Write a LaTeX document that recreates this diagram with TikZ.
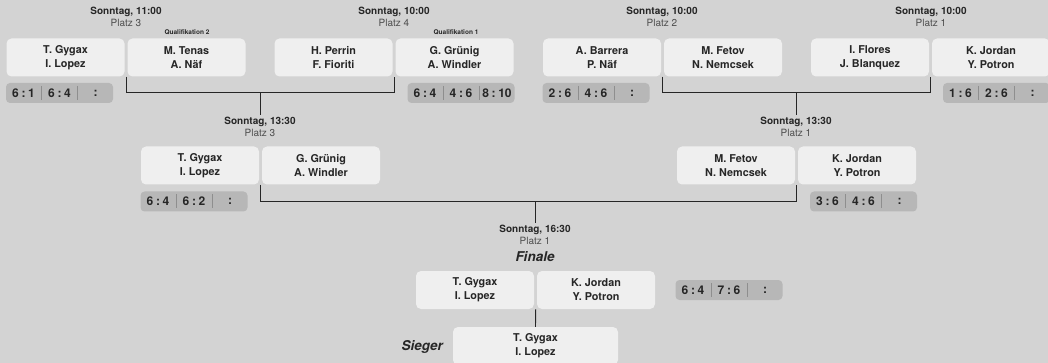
\documentclass[tikz,border=0pt]{standalone}
\usepackage{fontspec}
\setmainfont{TeX Gyre Heros}
\usepackage{tikz}

\definecolor{hintergrund}{HTML}{D3D3D3}
\definecolor{kasten}{HTML}{EFEFEF}
\definecolor{satzgrau}{HTML}{B7B7B7}
\definecolor{trenngrau}{HTML}{8E8E8E}
\definecolor{schrift}{HTML}{262626}
\definecolor{platzgrau}{HTML}{4D4D4D}

\tikzstyle{team} = [rectangle, rounded corners=5pt, fill=kasten, minimum width=118pt, minimum height=38pt, inner sep=0pt, align=center, text=schrift, font=\fontsize{10.8}{14}\selectfont\bfseries]
\tikzstyle{siegbox} = [team, minimum width=165pt]
\tikzstyle{zeit} = [align=center, text=schrift, font=\fontsize{10}{12}\selectfont, inner sep=2pt]
\tikzstyle{quali} = [text=schrift, font=\fontsize{6.5}{7}\selectfont\bfseries, inner sep=0pt]
\tikzstyle{titel} = [text=schrift, font=\fontsize{13.5}{15}\selectfont\bfseries\itshape, inner sep=0pt]
\tikzstyle{satzbox} = [rectangle, rounded corners=4pt, fill=satzgrau, minimum width=107pt, minimum height=20pt, inner sep=0pt]
\tikzstyle{satz} = [text=schrift, font=\fontsize{12}{14}\selectfont\bfseries, inner sep=0pt]
\tikzstyle{trenn} = [draw=trenngrau, line width=0.9pt]
\tikzstyle{linie} = [draw=schrift, line width=0.9pt]

% Satzergebnis: Name, Position, drei Saetze
\newcommand{\sz}[2]{#1\hspace{0.22em}:\hspace{0.22em}#2}
\newcommand{\ergebnis}[5]{%
  \node (#1) [satzbox] at (#2) {};
  \node (#1a) [satz, xshift=-36pt] at (#1) {#3};
  \node (#1b) [satz] at (#1) {#4};
  \node (#1c) [satz, xshift=36pt] at (#1) {#5};
  \draw [trenn] ([xshift=-18pt, yshift=7pt]#1.center) -- ([xshift=-18pt, yshift=-7pt]#1.center);
  \draw [trenn] ([xshift=18pt, yshift=7pt]#1.center) -- ([xshift=18pt, yshift=-7pt]#1.center);
}

\begin{document}
\begin{tikzpicture}[x=1pt, y=-1pt, node distance=121pt]

        \useasboundingbox (0,0) rectangle (1048,363);
        \clip (0,0) rectangle (1048,363);
        \fill [hintergrund] (0,0) rectangle (1048,363);

        % Erste Runde
        \node (z1) [zeit] at (126,17) {\textbf{Sonntag, 11:00}\\\textcolor{platzgrau}{Platz 3}};
        \node (q2) [quali] at (187,32) {Qualifikation 2};
        \node (p1l) [team] at (65.5,57.5) {T. Gygax\\I. Lopez};
        \node (p1r) [team, right of=p1l] {M. Tenas\\A. Näf};

        \node (z2) [zeit] at (394,17) {\textbf{Sonntag, 10:00}\\\textcolor{platzgrau}{Platz 4}};
        \node (q1) [quali] at (456,32) {Qualifikation 1};
        \node (p2l) [team] at (333.5,57.5) {H. Perrin\\F. Fioriti};
        \node (p2r) [team, right of=p2l] {G. Grünig\\A. Windler};

        \node (z3) [zeit] at (662,17) {\textbf{Sonntag, 10:00}\\\textcolor{platzgrau}{Platz 2}};
        \node (p3l) [team] at (602,57.5) {A. Barrera\\P. Näf};
        \node (p3r) [team, right of=p3l] {M. Fetov\\N. Nemcsek};

        \node (z4) [zeit] at (931,17) {\textbf{Sonntag, 10:00}\\\textcolor{platzgrau}{Platz 1}};
        \node (p4l) [team] at (870,57.5) {I. Flores\\J. Blanquez};
        \node (p4r) [team, right of=p4l] {K. Jordan\\Y. Potron};

        \ergebnis{s1}{59.5,93}{\sz61}{\sz64}{:}
        \ergebnis{s2}{461,93}{\sz64}{\sz46}{\sz{8}{10}}
        \ergebnis{s3}{596,93}{\sz26}{\sz46}{:}
        \ergebnis{s4}{996.5,93}{\sz16}{\sz26}{:}

        % Halbfinale
        \node (z5) [zeit] at (260,127) {\textbf{Sonntag, 13:30}\\\textcolor{platzgrau}{Platz 3}};
        \node (p5l) [team] at (200,165.5) {T. Gygax\\I. Lopez};
        \node (p5r) [team, right of=p5l] {G. Grünig\\A. Windler};

        \node (z6) [zeit] at (796,127) {\textbf{Sonntag, 13:30}\\\textcolor{platzgrau}{Platz 1}};
        \node (p6l) [team] at (736,165.5) {M. Fetov\\N. Nemcsek};
        \node (p6r) [team, right of=p6l] {K. Jordan\\Y. Potron};

        \ergebnis{s5}{194,201.5}{\sz64}{\sz62}{:}
        \ergebnis{s6}{863.5,201.5}{\sz36}{\sz46}{:}

        % Finale
        \node (z7) [zeit] at (535,235) {\textbf{Sonntag, 16:30}\\\textcolor{platzgrau}{Platz 1}};
        \node (finale) [titel] at (535,257) {Finale};
        \node (p7l) [team] at (475,290) {T. Gygax\\I. Lopez};
        \node (p7r) [team, right of=p7l] {K. Jordan\\Y. Potron};
        \ergebnis{s7}{729,290}{\sz64}{\sz76}{:}

        \node (sieger) [siegbox] at (535.5,346) {T. Gygax\\I. Lopez};
        \node (siegtext) [titel, anchor=east] at (443,347) {Sieger};

        % Verbindungen
        \draw [linie] ([xshift=1.5pt]p1l.south east) -- ++(0,16) coordinate (h1) -| ([xshift=1.5pt]p2l.south east);
        \draw [linie] (z5.north |- h1) -- (z5.north);
        \draw [linie] ([xshift=1.5pt]p3l.south east) -- ++(0,16) coordinate (h2) -| ([xshift=1.5pt]p4l.south east);
        \draw [linie] (z6.north |- h2) -- (z6.north);
        \draw [linie] ([xshift=1.5pt]p5l.south east) -- ++(0,17) coordinate (h3) -| ([xshift=1.5pt]p6l.south east);
        \draw [linie] (z7.north |- h3) -- (z7.north);
        \draw [linie] ([xshift=1.5pt]p7l.south east) -- (sieger.north);

\end{tikzpicture}
\end{document}
